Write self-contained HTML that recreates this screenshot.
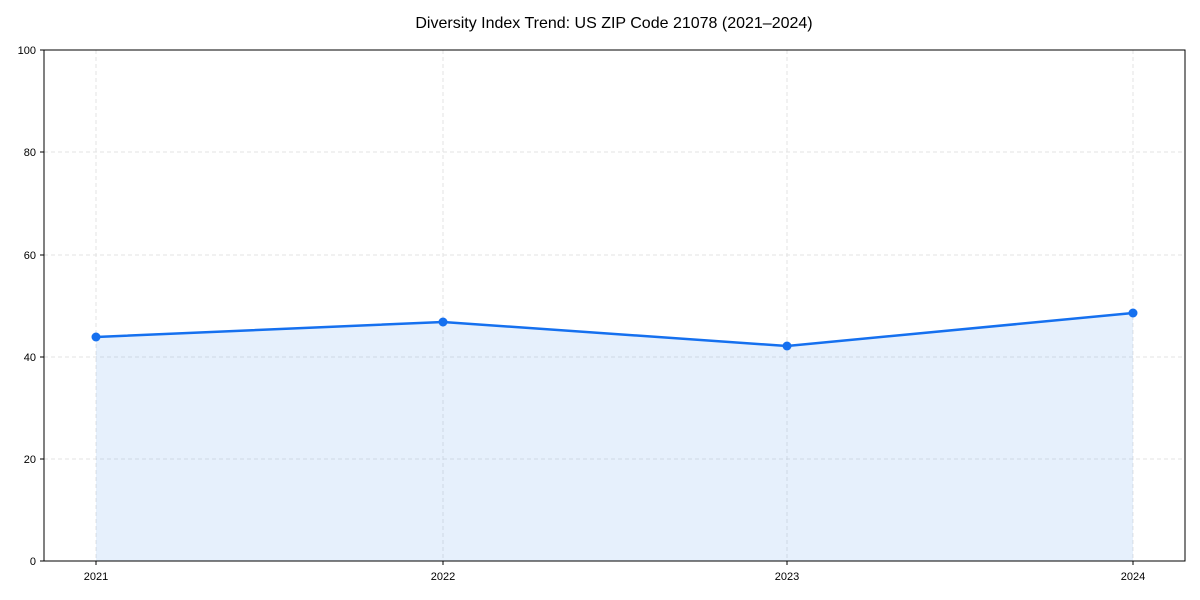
<!DOCTYPE html>
<html><head><meta charset="utf-8"><style>
html,body{margin:0;padding:0;background:#fff;}
svg{display:block;font-family:"Liberation Sans",Arial,sans-serif;}
</style></head><body>
<svg width="1200" height="600" viewBox="0 0 1200 600" xmlns="http://www.w3.org/2000/svg">
<rect width="1200" height="600" fill="#fff"/>
<text x="614" y="28" font-size="16" text-anchor="middle" fill="#000">Diversity Index Trend: US ZIP Code 21078 (2021–2024)</text>
<g stroke="#e3e3e3" stroke-width="1" stroke-dasharray="4,3">
<line x1="44" x2="1185" y1="459" y2="459"/>
<line x1="44" x2="1185" y1="357" y2="357"/>
<line x1="44" x2="1185" y1="255" y2="255"/>
<line x1="44" x2="1185" y1="152" y2="152"/>
<line x1="96" x2="96" y1="50" y2="561"/>
<line x1="443" x2="443" y1="50" y2="561"/>
<line x1="787" x2="787" y1="50" y2="561"/>
<line x1="1133" x2="1133" y1="50" y2="561"/>
</g>
<polygon points="96,561 96,337 443,322 787,346 1133,313 1133,561" fill="#1a73e8" fill-opacity="0.11"/>
<polyline points="96,337 443,322 787,346 1133,313" fill="none" stroke="#1570ef" stroke-width="2.5" stroke-linejoin="round"/>
<g fill="#1570ef">
<circle cx="96" cy="337" r="4.5"/><circle cx="443" cy="322" r="4.5"/><circle cx="787" cy="346" r="4.5"/><circle cx="1133" cy="313" r="4.5"/>
</g>
<rect x="44" y="50" width="1141" height="511" fill="none" stroke="#000" stroke-width="1"/>
<g stroke="#000" stroke-width="1">
<line x1="40" x2="44" y1="561" y2="561"/><line x1="40" x2="44" y1="459" y2="459"/><line x1="40" x2="44" y1="357" y2="357"/>
<line x1="40" x2="44" y1="255" y2="255"/><line x1="40" x2="44" y1="152" y2="152"/><line x1="40" x2="44" y1="50" y2="50"/>
<line x1="96" x2="96" y1="561" y2="565"/><line x1="443" x2="443" y1="561" y2="565"/><line x1="787" x2="787" y1="561" y2="565"/><line x1="1133" x2="1133" y1="561" y2="565"/>
</g>
<g font-size="11" fill="#000" text-anchor="end">
<text x="36" y="565">0</text><text x="36" y="463">20</text><text x="36" y="361">40</text>
<text x="36" y="259">60</text><text x="36" y="156">80</text><text x="36" y="54">100</text>
</g>
<g font-size="11" fill="#000" text-anchor="middle">
<text x="96" y="580">2021</text><text x="443" y="580">2022</text><text x="787" y="580">2023</text><text x="1133" y="580">2024</text>
</g>
</svg>
</body></html>
